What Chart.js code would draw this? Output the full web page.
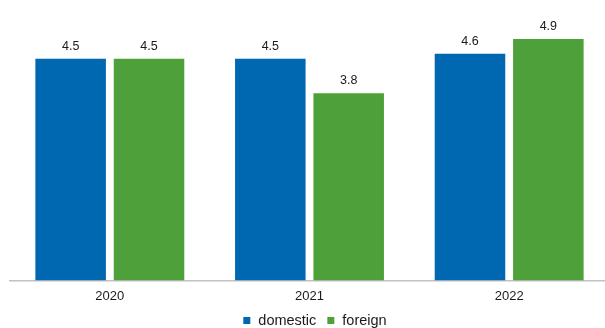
<!DOCTYPE html>
<html>
<head>
<meta charset="utf-8">
<script src="https://cdn.jsdelivr.net/npm/chart.js@4/dist/chart.umd.min.js"></script>
<style>
  html, body { margin: 0; padding: 0; background: #fff; overflow: hidden; }
  #wrap { width: 609px; height: 328px; }
</style>
</head>
<body>
<div id="wrap"><canvas id="myChart"></canvas></div>
<script>
const years = ['2020', '2021', '2022']
const domestic = [4.5, 4.5, 4.6]
const foreign = [4.5, 3.8, 4.9]

const blueColor = '#0067b1'
const greenColor = '#4ea03b'
const textColor = '#1a1a1a'
const fontFamily = '"Liberation Sans", Arial, sans-serif'

// value labels above bars
const barLabels = {
  id: 'barLabels',
  afterDatasetsDraw(chart) {
    const ctx = chart.ctx
    ctx.save()
    ctx.font = '12.5px ' + fontFamily
    ctx.fillStyle = textColor
    ctx.textAlign = 'center'
    ctx.textBaseline = 'alphabetic'
    chart.data.datasets.forEach((ds, i) => {
      chart.getDatasetMeta(i).data.forEach((bar, j) => {
        ctx.fillText(ds.data[j].toFixed(1), bar.x, bar.y - 9)
      })
    })
    ctx.restore()
  }
}

// simple legend under the axis, a bit right of centre like the original
const bottomLegend = {
  id: 'bottomLegend',
  afterDraw(chart) {
    const ctx = chart.ctx
    const box = 7, gap = 8, spacing = 11
    ctx.save()
    ctx.font = '14.5px ' + fontFamily
    ctx.textBaseline = 'alphabetic'
    ctx.textAlign = 'left'
    const items = chart.data.datasets.map(ds => ({ text: ds.label, color: ds.backgroundColor, w: ctx.measureText(ds.label).width }))
    let total = items.reduce((s, it) => s + box + gap + it.w, 0) + spacing * (items.length - 1)
    let x = 315 - total / 2
    const baseY = 324.5
    items.forEach(it => {
      ctx.fillStyle = it.color
      ctx.fillRect(x, baseY - 7.5, box, box)
      x += box + gap
      ctx.fillStyle = textColor
      ctx.fillText(it.text, x, baseY)
      x += it.w + spacing
    })
    ctx.restore()
  }
}

Chart.defaults.font.family = fontFamily
Chart.defaults.color = textColor

var ctx = document.getElementById('myChart')
new Chart(ctx, {
  type: 'bar',
  data: {
    labels: years,
    datasets: [{
      label: 'domestic',
      data: domestic,
      backgroundColor: blueColor,
      categoryPercentage: 0.785,
      barPercentage: 0.9
    }, {
      label: 'foreign',
      data: foreign,
      backgroundColor: greenColor,
      categoryPercentage: 0.785,
      barPercentage: 0.9
    }]
  },
  options: {
    responsive: true,
    maintainAspectRatio: false,
    animation: false,
    layout: { padding: { top: 34, left: 10, right: 0, bottom: 16 } },
    scales: {
      x: {
        grid: { display: false, drawTicks: false },
        border: { display: true, color: '#c2c2c2', width: 1.5 },
        ticks: { font: { size: 13 }, color: textColor, padding: 8 }
      },
      y: {
        display: false,
        min: 0,
        max: 5
      }
    },
    plugins: {
      legend: { display: false },
      tooltip: { enabled: false }
    }
  },
  plugins: [barLabels, bottomLegend]
})
</script>
</body>
</html>
